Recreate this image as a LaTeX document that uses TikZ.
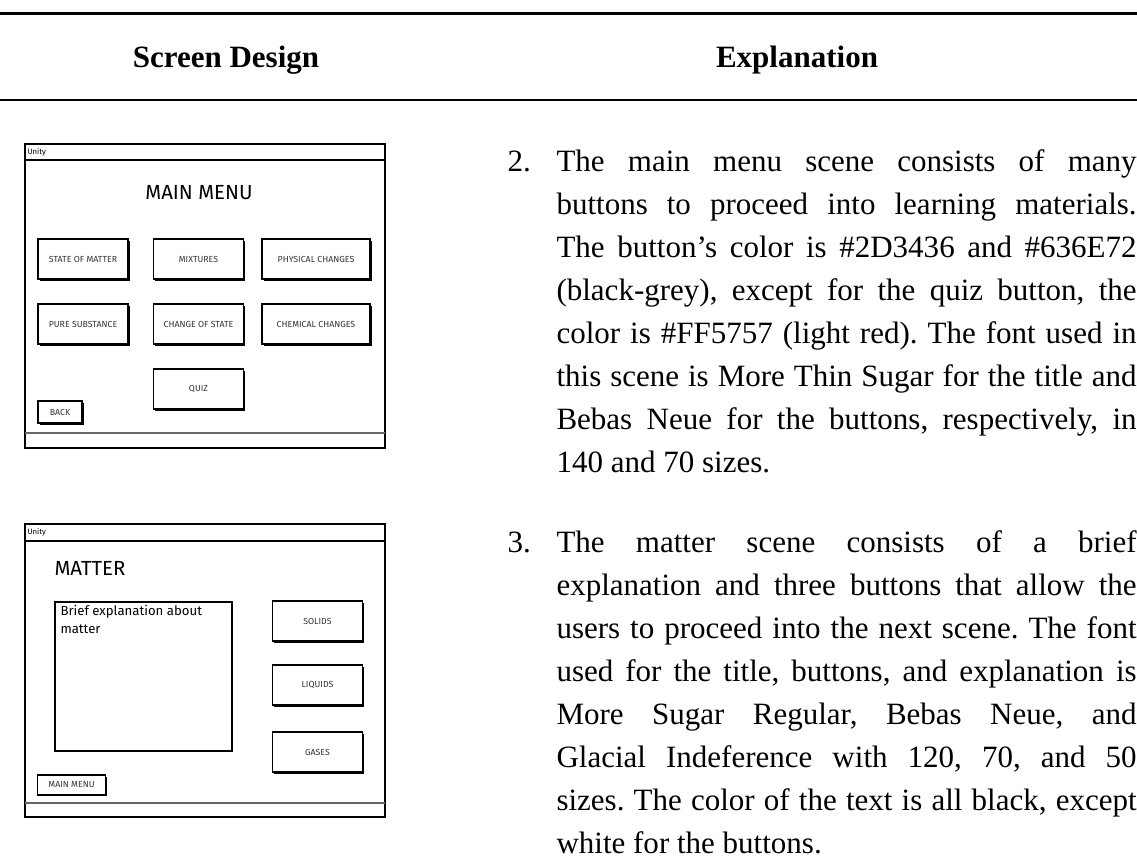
\documentclass[tikz,border=0pt]{standalone}
\usepackage{fontspec}
\setmainfont{Liberation Serif}
\newfontfamily\mockfont{Fira Sans}
\usetikzlibrary{shadows}
\frenchspacing
\newcommand\jline[1]{\hbox to 224.5pt{#1}}
\newcommand\lastline[1]{\hbox{#1}}

\begin{document}
\begin{tikzpicture}[x=0.387pt,y=-0.387pt]
        \tikzset{head/.style={font=\fontsize{12}{14}\selectfont\bfseries,inner sep=0pt,anchor=base},
          para/.style={font=\fontsize{12}{16.64}\selectfont,inner sep=0pt,anchor=base west},
          win/.style={line width=0.75pt},
          btn/.style={draw,line width=0.45pt,fill=white,inner sep=0pt,
            minimum width=34.8pt,minimum height=15.5pt,
            font=\mockfont\fontsize{3.4}{4}\selectfont,text=black!80,
            drop shadow={shadow xshift=0.6pt,shadow yshift=-0.6pt,fill=black,opacity=1}},
          wide/.style={minimum width=41.8pt},
          mini/.style={minimum width=17pt,minimum height=8.5pt},
          title/.style={font=\mockfont\fontsize{7.9}{9}\selectfont,inner sep=0pt},
          unity/.style={font=\mockfont\fontsize{3}{3.5}\selectfont,inner sep=0pt,anchor=west}}
        \useasboundingbox (0,0) rectangle (1137,857);
        % table head
        \draw[line width=1pt] (0,13.5) -- (1137,13.5);
        \draw[line width=1pt] (0,100) -- (1137,100);
        \node[head] (hScreen) at (226,68) {Screen Design};
        \node[head] (hExpl) at (797,68) {Explanation};
        % main menu screen
        \draw[win] (25,144) rectangle (385,448);
        \draw[win] (25,160) -- (385,160);
        \draw[line width=0.5pt,black!60] (25,433) -- (385,433);
        \node[unity] (u1) at (27,152) {Unity};
        \node[title] (mm) at (199,193) {MAIN MENU};
        \node[btn] (bState) at (83,259) {STATE OF MATTER};
        \node[btn] (bMix) at (198.5,259) {MIXTURES};
        \node[btn,wide] (bPhys) at (316,259) {PHYSICAL CHANGES};
        \node[btn] (bPure) at (83,324) {PURE SUBSTANCE};
        \node[btn] (bChange) at (198.5,324) {CHANGE OF STATE};
        \node[btn,wide] (bChem) at (316,324) {CHEMICAL CHANGES};
        \node[btn] (bQuiz) at (198.5,389) {QUIZ};
        \node[btn,mini] (bBack) at (60,412) {BACK};
        % matter screen
        \draw[win] (25,524) rectangle (385,817);
        \draw[win] (25,541) -- (385,541);
        \draw[line width=0.5pt,black!60] (25,803) -- (385,803);
        \node[unity] (u2) at (27,532) {Unity};
        \node[title,anchor=west] (mt) at (54,568) {MATTER};
        \draw[line width=0.5pt] (55,602) rectangle (232,751);
        \node[font=\mockfont\fontsize{5.1}{6.6}\selectfont,inner sep=0pt,anchor=base west]
          (expl) at (60,616) {\vtop{\hbox{Brief explanation about}\hbox{matter}}};
        \node[btn] (bSolid) at (317.5,621) {SOLIDS};
        \node[btn] (bLiquid) at (317.5,685) {LIQUIDS};
        \node[btn] (bGas) at (317.5,752) {GASES};
        \node[btn,minimum width=26pt,minimum height=7.7pt] (bMenu) at (71.5,785) {MAIN MENU};
        % explanations
        \node[para] (n2) at (507,172) {2.};
        \node[para] (t2) at (556,172) {\vtop{\jline{The main menu scene consists of many}
          \jline{buttons to proceed into learning materials.}
          \jline{The button's color is \#2D3436 and \#636E72}
          \jline{(black-grey), except for the quiz button, the}
          \jline{color is \#FF5757 (light red). The font used in}
          \jline{this scene is More Thin Sugar for the title and}
          \jline{Bebas Neue for the buttons, respectively, in}
          \lastline{140 and 70 sizes.}}};
        \node[para] (n3) at (507,553) {3.};
        \node[para] (t3) at (556,553) {\vtop{\jline{The matter scene consists of a brief}
          \jline{explanation and three buttons that allow the}
          \jline{users to proceed into the next scene. The font}
          \jline{used for the title, buttons, and explanation is}
          \jline{More Sugar Regular, Bebas Neue, and}
          \jline{Glacial Indeference with 120, 70, and 50}
          \jline{sizes. The color of the text is all black, except}
          \lastline{white for the buttons.}}};
      \end{tikzpicture}
\end{document}
